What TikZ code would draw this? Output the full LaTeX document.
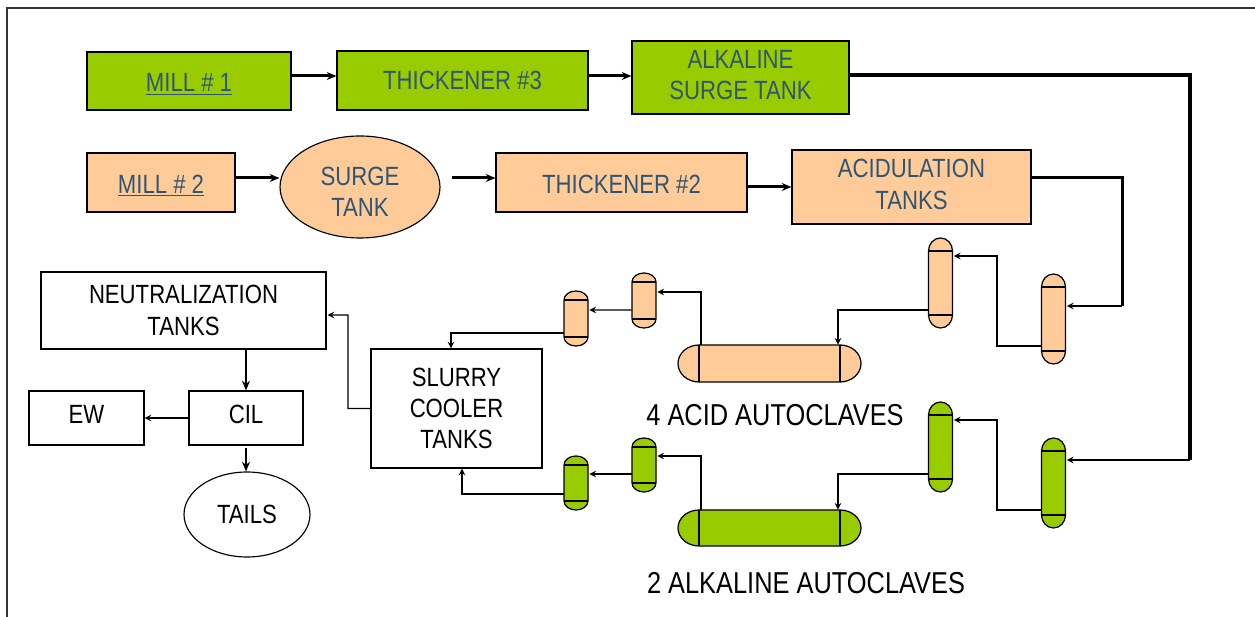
\documentclass[tikz,border=0pt]{standalone}
\usepackage{fontspec}
\setmainfont[FakeStretch=0.84]{Liberation Sans}
\usepackage{tikz}
\usetikzlibrary{calc,shapes.geometric,arrows.meta}

\definecolor{alkgreen}{HTML}{99CC00}
\definecolor{acidpeach}{HTML}{FFCC99}
\definecolor{labelblue}{HTML}{2F5573}

\tikzset{
  x=0.02cm,y=-0.02cm,
  >=stealth,
  procbox/.style={draw,line width=0.65pt,align=center,inner sep=0pt,font=\fontsize{15}{17.8}\selectfont},
  bluetext/.style={text=labelblue},
  vesselnode/.style={inner sep=0pt},
  thinflow/.style={->,line width=0.7pt},
  midflow/.style={-{Stealth[length=5.5pt,width=4.5pt]},line width=1.7pt},
  mainline/.style={line width=1.8pt},
  acidline/.style={line width=1.7pt},
  caption/.style={font=\fontsize{17.2}{19}\selectfont,inner sep=0pt}
}

% nudge the text of a box: lift adds depth under it, drop adds height over it
\newcommand{\textlift}[1]{\rule[-#1]{0pt}{0pt}}
\newcommand{\textdrop}[1]{\rule{0pt}{#1}}

% upright vessel: name, centre x, top, bottom, cap height, colour
\newcommand{\upvessel}[6]{
\node[vesselnode,minimum width=0.48cm,minimum height={(#4-#3)*0.02cm}] (#1) at (#2,{(#3+#4)/2}) {};
\draw[line width=0.7pt,fill=#6]
(#2-12,#3+#5) arc[start angle=180,end angle=360,x radius=12,y radius=#5]
-- (#2+12,#4-#5) arc[start angle=0,end angle=180,x radius=12,y radius=#5] -- cycle;
\draw[line width=0.7pt]
(#2-12,#3+#5) --++ (24,0)
(#2-12,#4-#5) --++ (24,0);
}

% lying vessel: name, left, right, top, bottom, colour
\newcommand{\flatvessel}[6]{
\node[vesselnode,minimum width={(#3-#2)*0.02cm},minimum height={(#5-#4)*0.02cm}] (#1) at ({(#2+#3)/2},{(#4+#5)/2}) {};
\draw[line width=0.7pt,fill=#6]
(#2+21,#4) -- (#3-21,#4) arc[start angle=270,end angle=450,x radius=21,y radius={(#5-#4)/2}]
-- (#2+21,#5) arc[start angle=90,end angle=270,x radius=21,y radius={(#5-#4)/2}] -- cycle;
\draw[line width=0.7pt]
(#2+21,#4) --++ (0,#5-#4)
(#3-21,#4) --++ (0,#5-#4);
}

\begin{document}
\begin{tikzpicture}
\useasboundingbox (0,0) rectangle (1255,617);

% frame
\draw[line width=0.7pt,draw=black!80] (7,617) -- (7,8) -- (1255,8);

% top rows
\node[procbox,bluetext,fill=alkgreen,minimum width=4.08cm,minimum height=1.16cm] (mill1) at (189,81) {\textdrop{14pt}\underline{MILL \# 1}};
\node[procbox,bluetext,fill=alkgreen,minimum width=5.02cm,minimum height=1.18cm] (thick3) at (462.5,80.5) {THICKENER \#3};
\node[procbox,bluetext,fill=alkgreen,minimum width=4.34cm,minimum height=1.46cm] (alk) at (740.5,77.5) {ALKALINE\\SURGE TANK\textlift{3pt}};
\node[procbox,bluetext,fill=acidpeach,minimum width=2.96cm,minimum height=1.18cm] (mill2) at (161,182.5) {\textdrop{14pt}\underline{MILL \# 2}};
\node[procbox,bluetext,fill=acidpeach,ellipse,minimum width=3.2cm,minimum height=2.04cm] (surge) at (360,187) {\textdrop{16pt}SURGE\\TANK};
\node[procbox,bluetext,fill=acidpeach,minimum width=5.02cm,minimum height=1.18cm] (thick2) at (621.5,182.5) {\textdrop{13pt}THICKENER \#2};
\node[procbox,bluetext,fill=acidpeach,minimum width=4.78cm,minimum height=1.48cm] (acidtk) at (911.5,187) {ACIDULATION\\TANKS\textlift{3pt}};

% lower left
\node[procbox,minimum width=5.7cm,minimum height=1.54cm] (neut) at (183.5,310.5) {NEUTRALIZATION\\TANKS};
\node[procbox,minimum width=3.42cm,minimum height=2.38cm] (slurry) at (456.5,408.5) {SLURRY\\COOLER\\TANKS};
\node[procbox,minimum width=2.28cm,minimum height=1.08cm] (cil) at (246,418) {CIL\textlift{4.6pt}};
\node[procbox,minimum width=2.3cm,minimum height=1.08cm] (ew) at (86.5,418) {EW\textlift{4.6pt}};
\node[procbox,ellipse,minimum width=2.52cm,minimum height=1.7cm] (tails) at (247,514.5) {TAILS};

% vessels
\upvessel{pone}{1053.5}{274}{364}{13}{acidpeach}
\upvessel{ptwo}{940.5}{238}{328}{13}{acidpeach}
\upvessel{pthree}{644}{273}{328}{9}{acidpeach}
\upvessel{pfour}{576}{291}{346}{9}{acidpeach}
\flatvessel{pflat}{678}{861}{345}{382}{acidpeach}
\upvessel{gone}{1053.5}{438}{528}{13}{alkgreen}
\upvessel{gtwo}{940.5}{402}{492}{13}{alkgreen}
\upvessel{gthree}{644}{438}{492}{9}{alkgreen}
\upvessel{gfour}{576}{456}{510}{9}{alkgreen}
\flatvessel{gflat}{678}{861}{510}{546}{alkgreen}

\node[caption] (acidcap) at (775,415) {4 ACID AUTOCLAVES};
\node[caption] (alkcap) at (806,583) {2 ALKALINE AUTOCLAVES};

% main flows
\draw[midflow] ($(mill1.east)+(0,-5)$) -- ($(thick3.west)+(0,-4.5)$);
\draw[midflow] ($(thick3.east)+(0,-4.5)$) -- ($(alk.west)+(0,-1.5)$);
\draw[midflow] ($(mill2.east)+(0,-4.5)$) -- ($(surge.west)+(0,-9)$);
\draw[midflow] ($(surge.east)+(11,-9)$) -- ($(thick2.west)+(0,-4.5)$);
\draw[midflow] ($(thick2.east)+(0,4.5)$) -- ($(acidtk.west)$);
\draw[midflow] (cil.north |- neut.south) -- (cil.north);
\draw[midflow] ($(cil.south)+(0,2)$) -- (cil.south |- tails.north);

% long lines
\coordinate (alkturn) at (1190,75);
\coordinate (alkdrop) at (1190,460);
\coordinate (acidturn) at (1122,178);
\coordinate (aciddrop) at (1122,306);
\draw[mainline] ($(alk.east)+(0,-2.5)$) -- (alkturn) -- (alkdrop);
\draw[acidline] ($(acidtk.east)+(0,-9)$) -- (acidturn) -- (aciddrop);
\draw[thinflow] (alkdrop) -- ($(gone.east)+(1,-23)$);
\draw[thinflow] (aciddrop) -- ($(pone.east)+(1,-13)$);

% vessel flows, acid side
\coordinate (pturn) at (997,256);
\draw[thinflow] ($(pone.west)+(0,27)$) -| (pturn) -- ($(ptwo.east)+(1,-27)$);
\draw[thinflow] ($(ptwo.west)+(0,27)$) -| ($(pflat.north)+(68.5,0)$);
\draw[thinflow] ($(pflat.north)+(-68.5,0)$) |- ($(pthree.east)+(1,-8.5)$);
\draw[thinflow] ($(pthree.west)+(0,9.5)$) -- ($(pfour.east)+(1,-8.5)$);
\draw[thinflow] ($(pfour.west)+(0,14.5)$) -| ($(slurry.north)+(-5.5,0)$);

% vessel flows, alkaline side
\coordinate (gturn) at (997,420);
\draw[thinflow] ($(gone.west)+(0,27)$) -| (gturn) -- ($(gtwo.east)+(1,-27)$);
\draw[thinflow] ($(gtwo.west)+(0,27)$) -| ($(gflat.north)+(68.5,0)$);
\draw[thinflow] ($(gflat.north)+(-68.5,0)$) |- ($(gthree.east)+(1,-9)$);
\draw[thinflow] ($(gthree.west)+(0,9)$) -- ($(gfour.east)+(1,-9)$);
\draw[thinflow] ($(gfour.west)+(0,11)$) -| ($(slurry.south)+(5.5,0)$);

% lower left flows
\coordinate (slurryturn) at (348,315);
\draw[thinflow] (slurry.west) -| (slurryturn) -- ($(neut.east)+(1,4.5)$);
\draw[thinflow] (cil.west) -- (ew.east);

\end{tikzpicture}
\end{document}
